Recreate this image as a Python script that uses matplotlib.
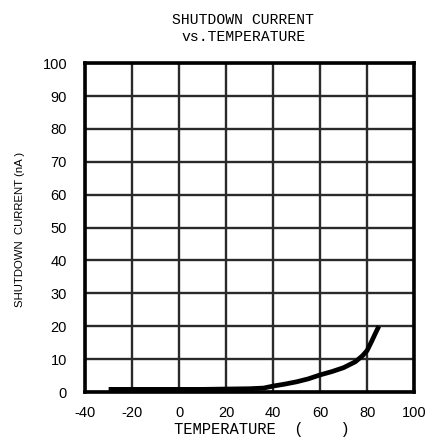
import matplotlib
matplotlib.use('Agg')
import matplotlib.pyplot as plt

plt.rcParams['axes.unicode_minus'] = False
plt.rcParams['font.family'] = ['Liberation Sans', 'DejaVu Sans']

temps = [-30, -20, -10, 0, 10, 20, 30, 36, 40, 45, 50, 55, 60, 65, 70, 75, 78, 80, 82, 83.5, 85]
current = [0.8, 0.8, 0.8, 0.8, 0.8, 0.9, 1.0, 1.2, 1.8, 2.4, 3.1, 4.0, 5.2, 6.2, 7.4, 9.2, 11.0, 12.6, 15.5, 17.8, 20.0]

xticks = [-40, -20, 0, 20, 40, 60, 80, 100]
yticks = [0, 10, 20, 30, 40, 50, 60, 70, 80, 90, 100]

fig = plt.figure(figsize=(4.30, 4.48), dpi=100)
ax = fig.add_axes([0.198, 0.125, 0.765, 0.734])

ax.plot(temps, current, color='black', lw=3.4, solid_capstyle='butt')

ax.set_xlim(-40, 100)
ax.set_ylim(0, 100)
ax.set_xticks(xticks)
ax.set_yticks(yticks)
ax.tick_params(axis='y', length=0, labelsize=10.5, pad=13)
ax.tick_params(axis='x', length=0, labelsize=10.5, pad=10)
ax.grid(True, color='#2a2a2a', lw=1.7)
ax.set_axisbelow(True)
for sp in ax.spines.values():
    sp.set_linewidth(2.6)

fig.text(0.566, 0.937, 'SHUTDOWN CURRENT\nvs.TEMPERATURE', ha='center', va='center',
         fontsize=10.6, family='Liberation Mono', linespacing=1.3)
fig.text(0.610, 0.042, 'TEMPERATURE  (    )', ha='center', va='center',
         fontsize=11.2, family='Liberation Mono')
fig.text(0.046, 0.487, 'SHUTDOWN  CURRENT (nA )', ha='center', va='center', rotation=90,
         fontsize=8.2)

fig.savefig('out.png', dpi=100)
